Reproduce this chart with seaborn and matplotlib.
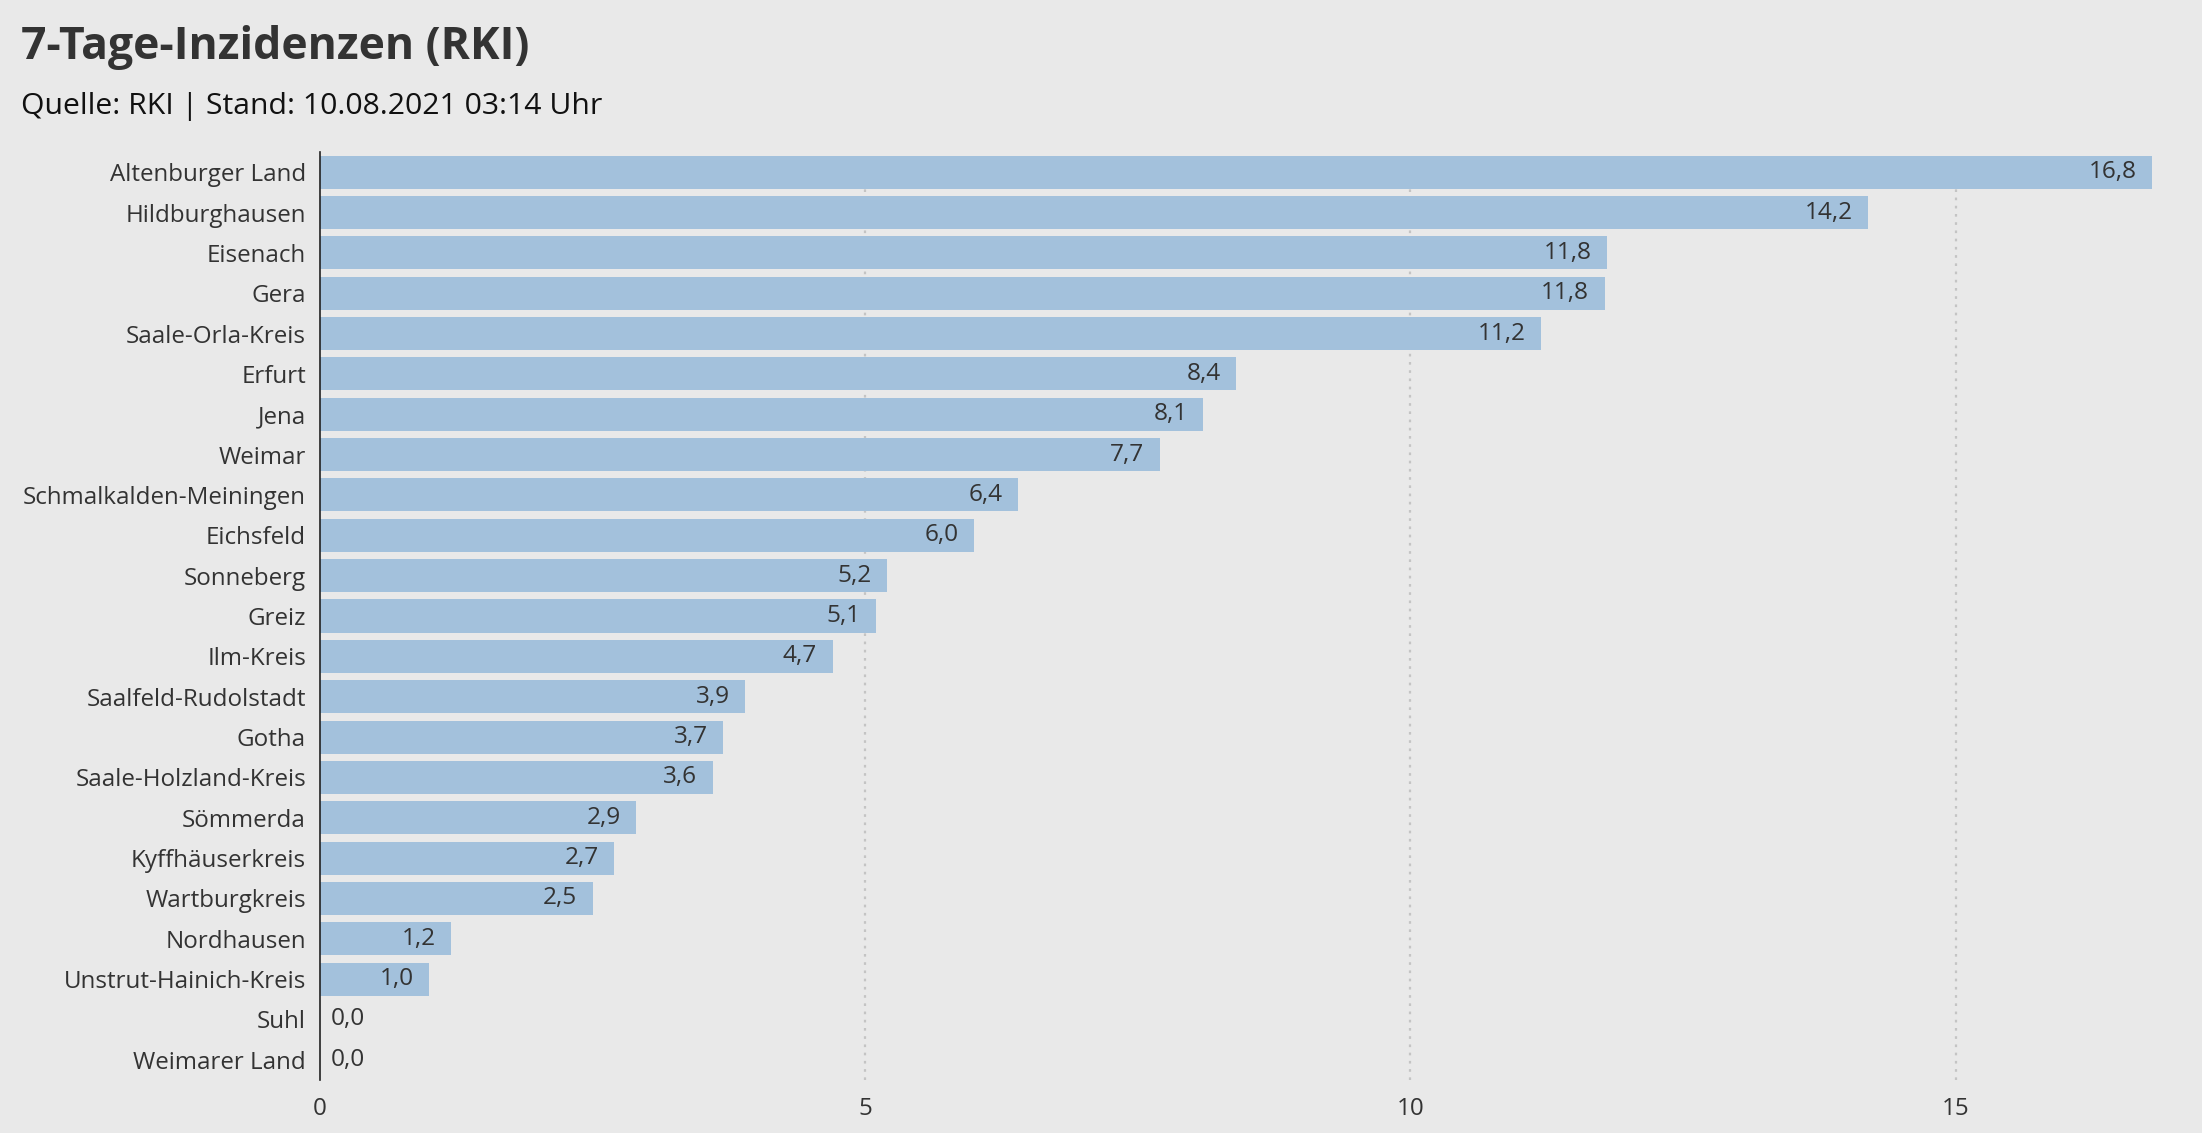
import matplotlib
matplotlib.use("Agg")
import matplotlib.pyplot as plt
import seaborn as sns
import pandas as pd

# ==========================================
# Data
# ==========================================
kreise = [
    "Altenburger Land", "Hildburghausen", "Eisenach", "Gera", "Saale-Orla-Kreis",
    "Erfurt", "Jena", "Weimar", "Schmalkalden-Meiningen", "Eichsfeld",
    "Sonneberg", "Greiz", "Ilm-Kreis", "Saalfeld-Rudolstadt", "Gotha",
    "Saale-Holzland-Kreis", "Sömmerda", "Kyffhäuserkreis", "Wartburgkreis",
    "Nordhausen", "Unstrut-Hainich-Kreis", "Suhl", "Weimarer Land",
]
inzidenz = [
    16.8, 14.2, 11.8, 11.78, 11.2,
    8.4, 8.1, 7.7, 6.4, 6.0,
    5.2, 5.1, 4.7, 3.9, 3.7,
    3.6, 2.9, 2.7, 2.5,
    1.2, 1.0, 0.0, 0.0,
]
x_ticks = [0, 5, 10, 15]

title = "7-Tage-Inzidenzen (RKI)"
subtitle = "Quelle: RKI | Stand: 10.08.2021 03:14 Uhr"

df = pd.DataFrame({"kreis": kreise, "wert": inzidenz})

# ==========================================
# Style
# ==========================================
bg = "#e9e9e9"
bar_color = "#a3c1dc"
text_color = "#333333"

sns.set_theme(style="white")
plt.rcParams['font.family'] = ['Open Sans', 'DejaVu Sans']

W, H = 2202, 1133
fig = plt.figure(figsize=(W / 100, H / 100), dpi=100, facecolor=bg)
ax = fig.add_axes([320 / W, 53 / H, (2152 - 320) / W, (1080 - 152) / H])
ax.set_facecolor(bg)

sns.barplot(data=df, x="wert", y="kreis", orient="h", color=bar_color,
            saturation=1, width=0.82, linewidth=0, edgecolor="none", ax=ax)

ax.set_xlim(0, max(inzidenz))
ax.set_xticks(x_ticks)
ax.set_xticklabels([str(t) for t in x_ticks])
ax.set_xlabel("")
ax.set_ylabel("")

for s in ["top", "right", "bottom"]:
    ax.spines[s].set_visible(False)
ax.spines["left"].set_color("#222222")
ax.spines["left"].set_linewidth(1.2)

ax.tick_params(axis="both", length=0, labelsize=17.4, colors=text_color)
ax.tick_params(axis="y", pad=10)
ax.tick_params(axis="x", pad=12)

for t in x_ticks[1:]:
    ax.axvline(t, color="#c4c4c4", linestyle=(0, (1.2, 2.5)), linewidth=1.6, zorder=0)

# value labels
for bar, v in zip(ax.patches, inzidenz):
    y = bar.get_y() + bar.get_height() / 2
    lab = f"{v:.1f}".replace(".", ",")
    if v >= 0.8:
        ax.annotate(lab, (bar.get_width(), y), xytext=(-11, 0), textcoords="offset points",
                    ha="right", va="center", fontsize=17.6, color=text_color)
    else:
        ax.annotate(lab, (bar.get_width(), y), xytext=(8, 0), textcoords="offset points",
                    ha="left", va="center", fontsize=17.6, color=text_color)

fig.text(21 / W, 1 - 59 / H, title, fontsize=32, fontweight="bold", color=text_color,
         ha="left", va="baseline")
fig.text(21 / W, 1 - 114 / H, subtitle, fontsize=21.7, color="#111111",
         ha="left", va="baseline")

fig.savefig("out.png", dpi=100, facecolor=bg)
plt.close(fig)
